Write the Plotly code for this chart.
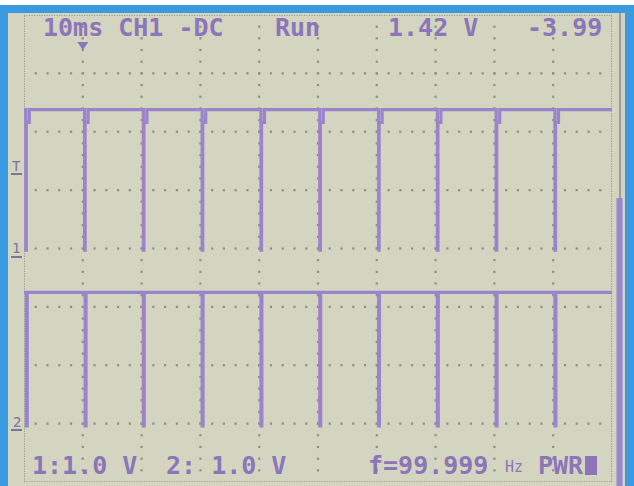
import numpy as np
import plotly.graph_objects as go

W, H = 634, 486

# ---- acquisition values -------------------------------------------------
time_div_ms = 10.0            # 10 ms / div
n_xdiv, n_ydiv = 10, 8
ch1_edges_ms = [0.3, 10.3, 20.3, 30.3, 40.3, 50.3, 60.3, 70.3, 80.3, 90.3]
ch2_edges_ms = [0.4, 10.4, 20.3, 30.3, 40.3, 50.3, 60.3, 70.3, 80.3, 90.3]
ch1_high_v, ch1_low_v, ch1_notch_v = 2.38, -0.03, 0.22
ch2_high_v, ch2_low_v = 2.25, -0.04
ch1_volts_div, ch2_volts_div = 1.0, 1.0
ch1_ground_div, ch2_ground_div = 0.0, -3.0
trigger_level_v = 1.42
trigger_time_ms = 10.0

header_texts = ["10ms CH1 -DC", "Run", "1.42 V", "-3.99"]
footer_texts = ["1:1.0 V", "2: 1.0 V", "f=99.999", "Hz", "PWR"]

# ---- colours --------------------------------------------------------------
BLUE = "#3a9ae0"
SCREEN = "#d4d5c0"
TRACE = "#9a84cb"
INK = "#8a76b8"
MARK = "#7f7396"
DOT = "#8e8e86"

# ---- screen geometry (pixels) --------------------------------------------
GX0, GX1 = 24, 612      # graticule left / right
GY0, GY1 = 15, 482      # graticule top / bottom


def px(x):
    return x / W


def py(y):
    return 1 - y / H


fig = go.Figure()

# graticule dots along interior division lines
t_max = time_div_ms * n_xdiv
xs_fine = np.arange(0, t_max + 1e-9, time_div_ms / 5)
ys_fine = np.arange(-n_ydiv / 2, n_ydiv / 2 + 1e-9, 0.2)
dot_x, dot_y = [], []
for row in range(-n_ydiv // 2 + 1, n_ydiv // 2):
    for xv in xs_fine[1:-1]:
        dot_x.append(xv)
        dot_y.append(row)
for col in range(1, n_xdiv):
    for yv in ys_fine[1:-1]:
        dot_x.append(col * time_div_ms)
        dot_y.append(yv)
fig.add_trace(go.Scatter(x=dot_x, y=dot_y, mode="markers",
                         marker=dict(symbol="square", size=2.2, color=DOT, line=dict(width=0)),
                         hoverinfo="skip", showlegend=False))


def build_ch1(edges, hi, lo, notch, gnd, vdiv):
    xs, ys = [0.0], [hi]
    for t in edges:
        xs += [t, t, t + 0.1, t + 0.1, t + 0.6, t + 0.6]
        ys += [hi, lo, lo, hi - notch, hi - notch, hi]
    xs.append(t_max)
    ys.append(hi)
    return xs, [gnd + v / vdiv for v in ys]


def build_ch2(edges, hi, lo, gnd, vdiv):
    xs, ys = [0.0], [hi]
    for t in edges:
        xs += [t, t, t + 0.15, t + 0.15]
        ys += [hi, lo, lo, hi]
    xs.append(t_max)
    ys.append(hi)
    return xs, [gnd + v / vdiv for v in ys]


x1, y1 = build_ch1(ch1_edges_ms, ch1_high_v, ch1_low_v, ch1_notch_v, ch1_ground_div, ch1_volts_div)
x2, y2 = build_ch2(ch2_edges_ms, ch2_high_v, ch2_low_v, ch2_ground_div, ch2_volts_div)
for xs, ys in ((x1, y1), (x2, y2)):
    fig.add_trace(go.Scatter(x=xs, y=ys, mode="lines",
                             line=dict(color=TRACE, width=3.2),
                             hoverinfo="skip", showlegend=False))

shapes = []
# photo border and screen
shapes.append(dict(type="rect", xref="paper", yref="paper", layer="below",
                   x0=0, x1=1, y0=0, y1=py(5), fillcolor=BLUE, line_width=0))
shapes.append(dict(type="rect", xref="paper", yref="paper", layer="below",
                   x0=px(8), x1=px(625), y0=0, y1=py(13), fillcolor=SCREEN, line_width=0))
# dense dotted graticule border
edge = dict(color=DOT, width=1.6, dash="1.2px,1.3px")
shapes += [
    dict(type="line", xref="x", yref="y", x0=0, x1=t_max, y0=4, y1=4, line=edge, layer="below"),
    dict(type="line", xref="x", yref="y", x0=0, x1=t_max, y0=-4, y1=-4, line=edge, layer="below"),
    dict(type="line", xref="x", yref="y", x0=0, x1=0, y0=-4, y1=4, line=edge, layer="below"),
    dict(type="line", xref="x", yref="y", x0=t_max, x1=t_max, y0=-4, y1=4, line=edge, layer="below"),
]
# record-length bar at the right
shapes.append(dict(type="line", xref="paper", yref="paper", x0=px(620), x1=px(620),
                   y0=py(13), y1=py(198), line=dict(color="#8e8698", width=1.5)))
shapes.append(dict(type="rect", xref="paper", yref="paper", x0=px(616.5), x1=px(622.5),
                   y0=0, y1=py(198), fillcolor=TRACE, line_width=0))
# underlines of the left-hand markers
for yline in (174, 257, 430):
    shapes.append(dict(type="line", xref="paper", yref="paper", x0=px(11), x1=px(22),
                       y0=py(yline), y1=py(yline), line=dict(color=MARK, width=2)))
# trigger position arrow
tx = GX0 + (trigger_time_ms / t_max) * (GX1 - GX0)
shapes.append(dict(type="path", xref="paper", yref="paper",
                   path=f"M {px(tx-5.5)} {py(42)} L {px(tx+5.5)} {py(42)} L {px(tx)} {py(50)} Z",
                   fillcolor=INK, line_width=0))
# PWR block
shapes.append(dict(type="rect", xref="paper", yref="paper", x0=px(585), x1=px(597),
                   y0=py(475), y1=py(456), fillcolor=INK, line_width=0))

MONO = "DejaVu Sans Mono"
ann = []


def label(text, x, y, size=25, color=INK, anchor="left", weight="bold"):
    ann.append(dict(text=text, xref="paper", yref="paper", x=px(x), y=py(y),
                    xanchor=anchor, yanchor="middle", showarrow=False,
                    font=dict(family=MONO, size=size, color=color, weight=weight)))


label(header_texts[0], 41, 28)
label(header_texts[1], 273, 28)
label(header_texts[2], 386, 28)
label(header_texts[3], 525, 28)
label(footer_texts[0], 30, 465)
label(footer_texts[1], 164, 465)
label(footer_texts[2], 366, 465)
label(footer_texts[3], 503, 467, size=15, weight="normal")
label(footer_texts[4], 536, 465)
# channel / trigger markers
trig_y = GY0 + (n_ydiv / 2 - (ch1_ground_div + trigger_level_v / ch1_volts_div)) / n_ydiv * (GY1 - GY0)
label("T", 16, trig_y, size=14, color=MARK, anchor="center", weight="normal")
label("1", 16, 248, size=14, color=MARK, anchor="center", weight="normal")
label("2", 17, 422, size=14, color=MARK, anchor="center", weight="normal")

fig.update_layout(
    width=W, height=H, margin=dict(l=0, r=0, t=0, b=0),
    paper_bgcolor="white", plot_bgcolor="rgba(0,0,0,0)",
    xaxis=dict(domain=[px(GX0), px(GX1)], range=[0, t_max], visible=False, fixedrange=True),
    yaxis=dict(domain=[py(GY1), py(GY0)], range=[-n_ydiv / 2, n_ydiv / 2], visible=False, fixedrange=True),
    shapes=shapes, annotations=ann, showlegend=False,
)

fig.write_html("out.html", config={"displayModeBar": False})
